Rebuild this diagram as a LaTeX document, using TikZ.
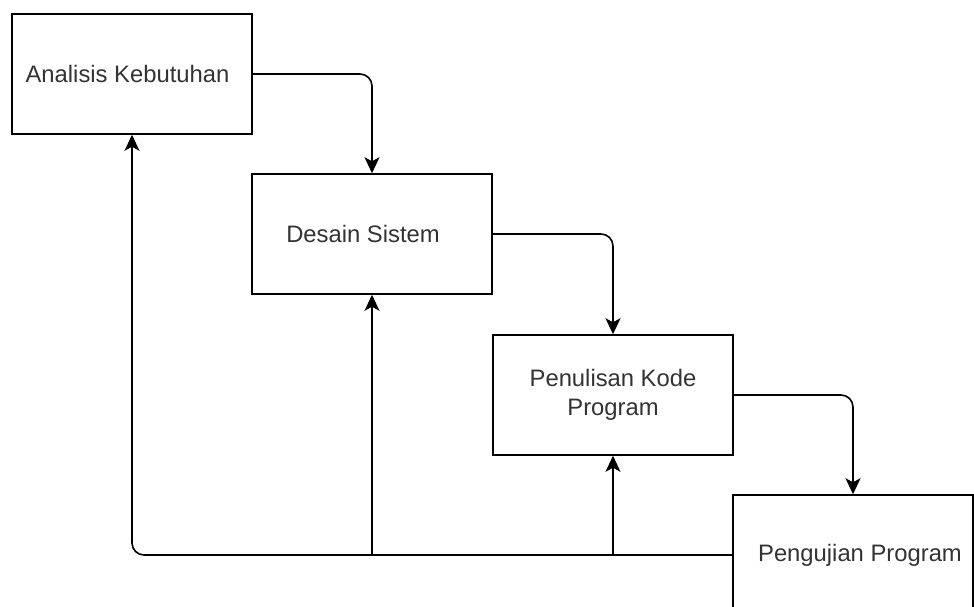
\documentclass[tikz,border=0pt]{standalone}
\usepackage{fontspec}
\setmainfont{Liberation Sans}
\usetikzlibrary{arrows.meta}
\tikzset{
  box/.style={draw=black, line width=1.5pt, rectangle, minimum width=240pt, minimum height=120pt,
    inner sep=0pt, align=center, text=black!80, font=\fontsize{23.8}{28.7}\selectfont},
  conn/.style={draw=black, line width=1.6pt, rounded corners=12pt,
    -{Stealth[length=16pt,width=15pt,inset=4pt]}}
}
\begin{document}
\begin{tikzpicture}[x=1pt,y=-1pt]
\useasboundingbox (0,0) rectangle (974,607);
\fill[white] (0,0) rectangle (974,607);
\clip (0,0) rectangle (974,607);
\node[box] (a) at (132,74) {Analisis Kebutuhan\hspace{9pt}};
\node[box] (b) at (372,234) {Desain Sistem\hspace{18pt}};
\node[box] (c) at (613,395) {Penulisan Kode\\Program};
\node[box] (d) at (853,555) {\hspace{14pt}Pengujian Program};
\draw[conn] (a.east) -| (b.north);
\draw[conn] (b.east) -| (c.north);
\draw[conn] (c.east) -| (d.north);
\draw[conn] (d.west) -| (a.south);
\draw[conn] (d.west -| b.south) -- (b.south);
\draw[conn] (d.west -| c.south) -- (c.south);
\end{tikzpicture}
\end{document}
